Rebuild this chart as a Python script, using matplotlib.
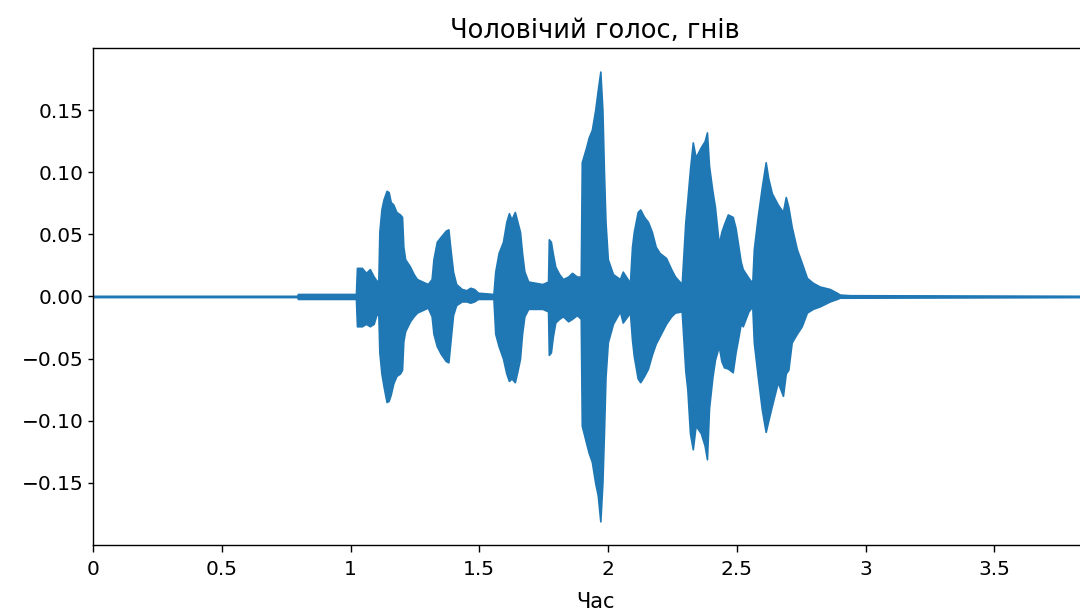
import matplotlib
matplotlib.use("Agg")
import matplotlib.pyplot as plt
from matplotlib.ticker import FuncFormatter

# обвідна хвилі (верх / низ)
t = [0.000, 0.792, 0.796, 1.021, 1.025, 1.044, 1.060, 1.075, 1.090, 1.100,
     1.108, 1.112, 1.120, 1.128, 1.140, 1.148, 1.156, 1.166, 1.178, 1.192,
     1.200, 1.205, 1.212, 1.231, 1.245, 1.258, 1.300, 1.315, 1.322, 1.335,
     1.350, 1.370, 1.380, 1.388, 1.398, 1.410, 1.432, 1.450, 1.465, 1.480,
     1.495, 1.555, 1.562, 1.575, 1.592, 1.605, 1.615, 1.625, 1.638, 1.648,
     1.658, 1.666, 1.675, 1.690, 1.745, 1.767, 1.770, 1.778, 1.785, 1.795,
     1.810, 1.825, 1.845, 1.860, 1.879, 1.894, 1.898, 1.915, 1.925, 1.937,
     1.950, 1.960, 1.970, 1.978, 1.984, 1.990, 1.999, 2.019, 2.046, 2.057,
     2.085, 2.093, 2.100, 2.115, 2.125, 2.140, 2.155, 2.170, 2.185, 2.200,
     2.225, 2.245, 2.260, 2.286, 2.300, 2.308, 2.318, 2.329, 2.340, 2.360,
     2.375, 2.384, 2.392, 2.405, 2.415, 2.430, 2.440, 2.450, 2.465, 2.484,
     2.495, 2.504, 2.515, 2.523, 2.545, 2.560, 2.566, 2.581, 2.597, 2.612,
     2.622, 2.636, 2.659, 2.679, 2.690, 2.700, 2.713, 2.733, 2.752, 2.772,
     2.795, 2.822, 2.861, 2.888, 2.900, 2.939, 3.900]
upper = [0.0005, 0.0005, 0.002, 0.002, 0.023, 0.023, 0.019, 0.022, 0.016, 0.013,
         0.012, 0.052, 0.070, 0.078, 0.085, 0.084, 0.076, 0.074, 0.068, 0.066,
         0.064, 0.040, 0.030, 0.024, 0.018, 0.014, 0.010, 0.014, 0.030, 0.044,
         0.048, 0.053, 0.054, 0.038, 0.020, 0.010, 0.006, 0.005, 0.007, 0.006,
         0.003, 0.002, 0.020, 0.035, 0.044, 0.060, 0.067, 0.062, 0.068, 0.060,
         0.052, 0.035, 0.020, 0.012, 0.010, 0.012, 0.046, 0.044, 0.035, 0.024,
         0.018, 0.014, 0.016, 0.019, 0.016, 0.016, 0.108, 0.120, 0.128, 0.134,
         0.150, 0.166, 0.181, 0.150, 0.100, 0.060, 0.030, 0.018, 0.014, 0.020,
         0.011, 0.040, 0.052, 0.068, 0.070, 0.064, 0.060, 0.052, 0.040, 0.035,
         0.031, 0.022, 0.016, 0.010, 0.060, 0.078, 0.102, 0.124, 0.112, 0.120,
         0.125, 0.132, 0.105, 0.085, 0.072, 0.042, 0.052, 0.058, 0.066, 0.064,
         0.055, 0.043, 0.028, 0.022, 0.015, 0.011, 0.038, 0.064, 0.088, 0.108,
         0.095, 0.083, 0.074, 0.068, 0.080, 0.072, 0.056, 0.038, 0.027, 0.015,
         0.011, 0.008, 0.006, 0.003, 0.0015, 0.001, 0.0005]
lower = [-0.0005, -0.0005, -0.002, -0.002, -0.024, -0.024, -0.022, -0.024, -0.022, -0.015,
         -0.014, -0.045, -0.062, -0.072, -0.085, -0.084, -0.079, -0.070, -0.064, -0.062,
         -0.059, -0.036, -0.028, -0.020, -0.016, -0.013, -0.009, -0.016, -0.030, -0.040,
         -0.046, -0.052, -0.053, -0.036, -0.015, -0.007, -0.004, -0.004, -0.005, -0.004,
         -0.002, -0.002, -0.030, -0.040, -0.050, -0.062, -0.068, -0.066, -0.069, -0.060,
         -0.050, -0.030, -0.016, -0.010, -0.010, -0.012, -0.047, -0.045, -0.033, -0.021,
         -0.018, -0.016, -0.020, -0.018, -0.015, -0.018, -0.104, -0.118, -0.126, -0.133,
         -0.150, -0.160, -0.181, -0.150, -0.110, -0.065, -0.037, -0.022, -0.012, -0.021,
         -0.013, -0.035, -0.048, -0.066, -0.069, -0.064, -0.058, -0.047, -0.038, -0.032,
         -0.022, -0.016, -0.013, -0.012, -0.060, -0.075, -0.110, -0.123, -0.104, -0.110,
         -0.120, -0.131, -0.090, -0.065, -0.051, -0.040, -0.052, -0.057, -0.058, -0.061,
         -0.045, -0.035, -0.022, -0.024, -0.012, -0.008, -0.037, -0.064, -0.091, -0.109,
         -0.100, -0.088, -0.069, -0.080, -0.062, -0.059, -0.037, -0.030, -0.024, -0.013,
         -0.010, -0.008, -0.004, -0.002, -0.001, -0.001, -0.0005]

x_ticks = [0, 0.5, 1, 1.5, 2, 2.5, 3, 3.5]
y_ticks = [-0.15, -0.10, -0.05, 0.00, 0.05, 0.10, 0.15]

fig = plt.figure(figsize=(10.8, 6.1), dpi=100)
# права межа осей виходить за кадр, як у обрізаному оригіналі
ax = fig.add_axes([0.0861, 0.1066, 0.930, 0.8148])

ax.fill_between(t, lower, upper, color='#1f77b4', linewidth=1.2)

ax.set_xlim(0, 3.9)
ax.set_ylim(-0.2, 0.2)
ax.set_xticks(x_ticks)
ax.xaxis.set_major_formatter(FuncFormatter(lambda v, p: '%g' % v))
ax.set_yticks(y_ticks)

ax.set_title("Чоловічий голос, гнів", fontsize=18.5, pad=7)
ax.set_xlabel("Час", fontsize=15, labelpad=9)
ax.tick_params(axis='both', labelsize=14.5, width=1.0)
ax.tick_params(axis='x', length=5, pad=6)
for s in ax.spines.values():
    s.set_linewidth(1.0)

fig.savefig("out.png", dpi=100)
